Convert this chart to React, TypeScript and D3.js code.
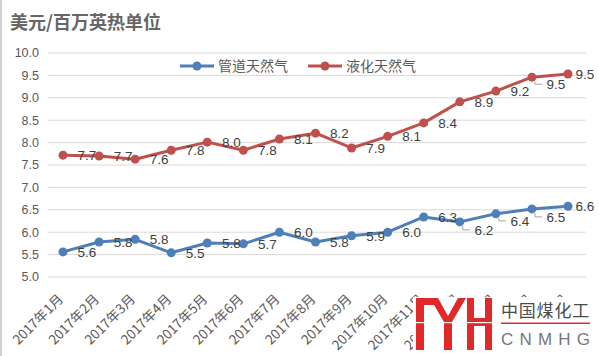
import React from "react";
import * as d3 from "d3";

const months = [
  "2017年1月", "2017年2月", "2017年3月", "2017年4月", "2017年5月", "2017年6月",
  "2017年7月", "2017年8月", "2017年9月", "2017年10月", "2017年11月", "2017年12月",
  "2018年1月", "2018年2月", "2018年3月",
];
const pipeline = [5.56, 5.78, 5.84, 5.54, 5.76, 5.74, 6.0, 5.78, 5.92, 6.0, 6.34, 6.23, 6.41, 6.52, 6.58];
const lng = [7.72, 7.7, 7.63, 7.83, 8.01, 7.83, 8.08, 8.21, 7.88, 8.14, 8.44, 8.91, 9.15, 9.46, 9.53];
const yTicks = [5.0, 5.5, 6.0, 6.5, 7.0, 7.5, 8.0, 8.5, 9.0, 9.5, 10.0];
const seriesNames = ["管道天然气", "液化天然气"];
const titleText = "美元/百万英热单位";

// label vertical nudges (style), per point
const pipeLabelDy = [0, 0, 0, 0, 0, 0, 0, 0, 0, 0, 0, 8, 7, 8, 0];
const lngLabelDy = [0, 0, 0, 0, 0, 0, 0, 0, 0, 0, 0, 0, 0, 7, 0];

const W = 599, H = 356;
const BLUE = "#4f7fb8";
const RED = "#c0504d";
const TXT = "#595959";

export default function App() {
  const x = d3.scalePoint<string>().domain(months).range([63, 568]);
  const y = d3.scaleLinear().domain([5, 10]).range([277, 53]);
  const line = d3
    .line<number>()
    .x((_, i) => x(months[i]) as number)
    .y((d) => y(d));

  const series = [
    { name: seriesNames[0], data: pipeline, color: BLUE, dy: pipeLabelDy },
    { name: seriesNames[1], data: lng, color: RED, dy: lngLabelDy },
  ];

  return (
    <svg
      width={W}
      height={H}
      style={{ position: "absolute", left: 0, top: 0, background: "#fff" }}
      fontFamily="'Noto Sans CJK SC', 'Noto Sans', sans-serif"
    >
      <rect x={0} y={0} width={W} height={H} fill="#fff" />
      <line x1={1} x2={1} y1={0} y2={H} stroke="#d0d0d0" strokeWidth={2} />
      <text x={10} y={29} fontSize={18} fontWeight="bold" fill="#666"
        fontFamily="'Noto Sans CJK SC', serif">
        {titleText}
      </text>

      {yTicks.map((t) => (
        <g key={t}>
          <line x1={48} x2={586} y1={y(t)} y2={y(t)} stroke="#d9d9d9" strokeWidth={1} />
          <text x={39} y={y(t)} dy="0.35em" textAnchor="end" fontSize={12.5} fill={TXT}
            fontFamily="'Liberation Sans', 'DejaVu Sans', sans-serif">
            {t.toFixed(1)}
          </text>
        </g>
      ))}

      {months.map((m) => (
        <text key={m} transform={`translate(${(x(m) as number) + 1},${300}) rotate(-45)`}
          textAnchor="end" fontSize={13.5} fill={TXT}>
          {m}
        </text>
      ))}

      {series.map((s) => (
        <g key={s.name}>
          <path d={line(s.data) || ""} fill="none" stroke={s.color} strokeWidth={3} strokeLinejoin="round" />
          {s.data.map((v, i) => (
            <circle key={i} cx={x(months[i]) as number} cy={y(v)} r={4.5} fill={s.color} />
          ))}
          {s.data.map((v, i) => {
            const px = x(months[i]) as number;
            const py = y(v);
            const dy = s.dy[i];
            return (
              <g key={"l" + i}>
                {dy > 0 && (
                  <polyline
                    points={`${px + 3},${py + 4} ${px + 3},${py + dy} ${px + 10},${py + dy}`}
                    fill="none" stroke="#a6a6a6" strokeWidth={1}
                  />
                )}
                <text x={Math.min(px + 24, 585)} y={py + dy} dy="0.35em" textAnchor="middle" fontSize={13.5} fill="#404040"
                  fontFamily="'Liberation Sans', 'DejaVu Sans', sans-serif">
                  {(Math.round(v * 10) / 10).toFixed(1)}
                </text>
              </g>
            );
          })}
        </g>
      ))}

      {/* legend */}
      {series.map((s, i) => {
        const lx = 180 + i * 128;
        return (
          <g key={"lg" + i}>
            <line x1={lx} x2={lx + 34} y1={66} y2={66} stroke={s.color} strokeWidth={3} />
            <circle cx={lx + 17} cy={66} r={4.5} fill={s.color} />
            <text x={lx + 38} y={66} dy="0.35em" fontSize={14} fill={TXT}>{s.name}</text>
          </g>
        );
      })}

      {/* logo */}
      <rect x={413} y={297} width={186} height={59} fill="#fff" />
      <g fill="#e02a2a">
        <rect x={416} y={298} width={8} height={52} />
        <rect x={416} y={298} width={20} height={7} />
        <polygon points="430,298 438,298 448,316 458,298 466,298 452,322 452,350 444,350 444,322" />
        <rect x={467} y={298} width={7} height={52} />
        <rect x={485} y={298} width={7} height={52} />
        <rect x={467} y={318} width={25} height={8} />
        <rect x={414} y={322} width={80} height={1.2} fill="#fff" />
      </g>
      <text x={501} y={317} fontSize={17} fill="#4a4a4a" letterSpacing={0.8}>中国煤化工</text>
      <rect x={501} y={322.5} width={89} height={1.5} fill="#e02a2a" />
      <text x={501} y={345} fontSize={17} fill="#777" letterSpacing={6.2}
        fontFamily="'Liberation Sans', sans-serif">CNMHG</text>
    </svg>
  );
}
